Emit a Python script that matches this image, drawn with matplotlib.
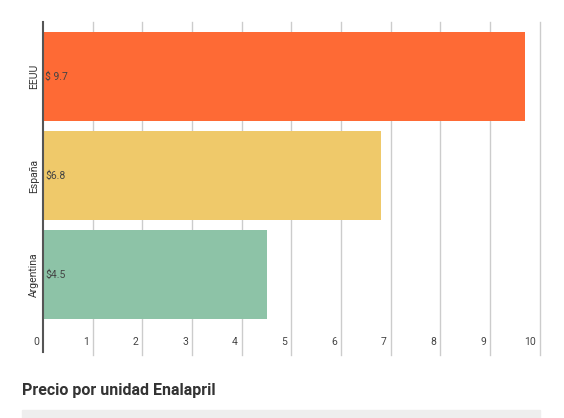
import matplotlib
matplotlib.use("Agg")
import matplotlib.pyplot as plt
from matplotlib.patches import Rectangle

categories = ["Argentina", "España", "EEUU"]
values = [4.5, 6.8, 9.7]
labels = ["$4.5", "$6.8", "$ 9.7"]
colors = ["#8dc3a7", "#efc96a", "#fe6a35"]
ticks = list(range(0, 11))

plt.rcParams['font.family'] = ['Roboto', 'DejaVu Sans']
fig = plt.figure(figsize=(5.64, 4.18), dpi=100)
ax = fig.add_axes([0.0762, 0.1746, 0.881, 0.7724])
ax.set_xlim(0, 10)
ax.set_ylim(-0.71, 2.55)
for t in ticks[1:]:
    ax.axvline(t, color="#cccccc", lw=1, zorder=0, ymin=-0.03, clip_on=False)
ax.barh(range(3), values, height=0.9, color=colors, zorder=2)
for i, (v, l) in enumerate(zip(values, labels)):
    ax.text(0.05, i, l, va="center", ha="left", fontsize=7.5, color="#444444", zorder=3)
for t in ticks:
    ax.text(t - 0.08, -0.68, str(t), ha="right", va="center", fontsize=7.5, color="#444444")
ax.set_xticks([])
ax.set_yticks(range(3))
ax.set_yticklabels(categories, rotation=90, va="center", fontsize=7.5, color="#333333")
ax.tick_params(axis="y", length=0, pad=3)
for s in ["top", "right", "bottom"]:
    ax.spines[s].set_visible(False)
ax.spines["left"].set_color("#555555")
ax.spines["left"].set_linewidth(1.5)
ax.spines["left"].set_bounds(-0.78, 2.55)
fig.text(22/564, 1-390/418, "Precio por unidad Enalapril", fontsize=11.5, weight="bold", color="#333333", va="center")
fig.patches.append(Rectangle((22/564, 0), 518/564, 8/418, transform=fig.transFigure, color="#eeeeee"))
fig.savefig("out.png", dpi=100)
